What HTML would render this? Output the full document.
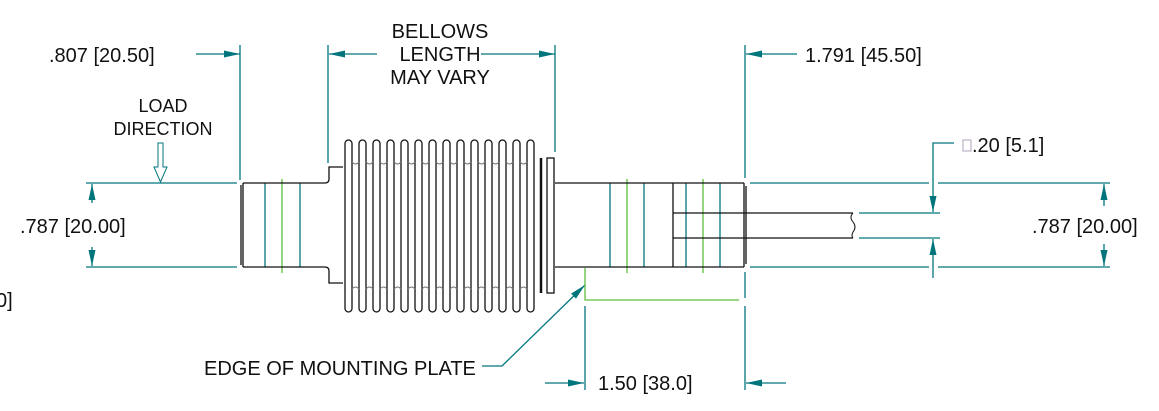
<!DOCTYPE html>
<html><head><meta charset="utf-8"><style>
html,body{margin:0;padding:0;background:#fff;}
svg{display:block;}
text{font-family:"Liberation Sans",Arial,sans-serif;font-size:20px;fill:#111;}
</style></head><body>
<svg width="1159" height="411" viewBox="0 0 1159 411" xmlns="http://www.w3.org/2000/svg">
<defs>
<marker id="a" viewBox="0 0 16 8" refX="16" refY="4" markerWidth="16" markerHeight="8" markerUnits="userSpaceOnUse" orient="auto" preserveAspectRatio="none"><path d="M0,0.5 L16,4 L0,7.5 Z" fill="#00767c"/></marker>
<marker id="av" viewBox="0 0 16 8" refX="16" refY="4" markerWidth="16" markerHeight="8" markerUnits="userSpaceOnUse" orient="auto" preserveAspectRatio="none"><path d="M0,0.5 L16,4 L0,7.5 Z" fill="#00767c"/></marker>
</defs>
<g stroke="#00767c" stroke-width="1.3" fill="none">
<line x1="196" y1="54" x2="240" y2="54" marker-end="url(#a)"/>
<line x1="240" y1="45" x2="240" y2="180"/>
<line x1="377" y1="54" x2="329" y2="54" marker-end="url(#a)"/>
<line x1="328" y1="45" x2="328" y2="163"/>
<line x1="481" y1="54" x2="555" y2="54" marker-end="url(#a)"/>
<line x1="555" y1="45" x2="555" y2="152"/>
<line x1="797" y1="54" x2="746" y2="54" marker-end="url(#a)"/>
<line x1="745" y1="45" x2="745" y2="178"/>
<line x1="745" y1="272" x2="745" y2="298"/>
<line x1="745" y1="306" x2="745" y2="390"/>
<line x1="86" y1="183" x2="237" y2="183"/>
<line x1="86" y1="267" x2="237" y2="267"/>
<line x1="92" y1="203" x2="92" y2="184" marker-end="url(#av)"/>
<line x1="92" y1="247" x2="92" y2="266" marker-end="url(#av)"/>
<line x1="750" y1="183" x2="929" y2="183"/>
<line x1="938" y1="183" x2="1110" y2="183"/>
<line x1="750" y1="267" x2="929" y2="267"/>
<line x1="938" y1="267" x2="1110" y2="267"/>
<line x1="859" y1="213" x2="940" y2="213"/>
<line x1="859" y1="238" x2="940" y2="238"/>
<polyline points="954,143 933,143 933,212" marker-end="url(#av)"/>
<line x1="933" y1="278" x2="933" y2="239" marker-end="url(#av)"/>
<line x1="1104" y1="206" x2="1104" y2="184" marker-end="url(#av)"/>
<line x1="1104" y1="244" x2="1104" y2="266" marker-end="url(#av)"/>
<line x1="585" y1="306" x2="585" y2="390"/>
<line x1="545" y1="383" x2="584" y2="383" marker-end="url(#a)"/>
<line x1="786" y1="383" x2="746" y2="383" marker-end="url(#a)"/>
<polyline points="482,366 502,366 585,285" marker-end="url(#a)"/>
<line x1="265" y1="183" x2="265" y2="267"/>
<line x1="300" y1="183" x2="300" y2="267"/>
<line x1="610" y1="183" x2="610" y2="267"/>
<line x1="644" y1="183" x2="644" y2="267"/>
<line x1="686" y1="183" x2="686" y2="267"/>
<line x1="720" y1="183" x2="720" y2="267"/>
</g>
<g stroke="#5cbf3a" stroke-width="1.3" fill="none">
<line x1="282" y1="179" x2="282" y2="273"/>
<line x1="627" y1="179" x2="627" y2="273"/>
<line x1="703" y1="179" x2="703" y2="273"/>
<polyline points="585,268 585,300 739,300"/>
</g>
<path d="M158,143 L163,143 L163,167 L167,167 L160.5,182 L154,167 L158,167 Z" fill="#fff" stroke="#00767c" stroke-width="1"/>
<g stroke="#111" stroke-width="1.3" fill="none">
<path d="M243,183 L325,183 Q329,183 329,179 L329,167 L343,167"/>
<path d="M243,267 L325,267 Q329,267 329,271 L329,283 L343,283"/>
<line x1="241" y1="185" x2="241" y2="265"/>
<line x1="243" y1="183" x2="243" y2="267"/>
<rect x="345" y="140" width="7" height="172" rx="3.5"/>
<rect x="359" y="140" width="7" height="172" rx="3.5"/>
<rect x="373" y="140" width="7" height="172" rx="3.5"/>
<rect x="387" y="140" width="7" height="172" rx="3.5"/>
<rect x="401" y="140" width="7" height="172" rx="3.5"/>
<rect x="415" y="140" width="7" height="172" rx="3.5"/>
<rect x="429" y="140" width="7" height="172" rx="3.5"/>
<rect x="443" y="140" width="7" height="172" rx="3.5"/>
<rect x="457" y="140" width="7" height="172" rx="3.5"/>
<rect x="471" y="140" width="7" height="172" rx="3.5"/>
<rect x="485" y="140" width="7" height="172" rx="3.5"/>
<rect x="499" y="140" width="7" height="172" rx="3.5"/>
<rect x="513" y="140" width="7" height="172" rx="3.5"/>
<rect x="527" y="140" width="7" height="172" rx="3.5"/>
<line x1="541" y1="158" x2="541" y2="293" stroke-width="2.5"/>
<rect x="547" y="158" width="7" height="135"/>
<path d="M555,183 L744,183 M555,267 L744,267"/>
<line x1="744" y1="183" x2="744" y2="267"/>
<line x1="746" y1="186" x2="746" y2="264"/>
<line x1="673" y1="183" x2="673" y2="267"/>
<path d="M673,213 L853,213 M673,238 L853,238"/>
<path d="M853,213 Q849,217 853,222 Q857,227 853,232 Q851,236 853,238" stroke-width="1"/>
</g>
<g stroke="#777" stroke-width="1" fill="none">
<path d="M352,162 q3.5,4 7,0 M366,162 q3.5,4 7,0 M380,162 q3.5,4 7,0 M394,162 q3.5,4 7,0 M408,162 q3.5,4 7,0 M422,162 q3.5,4 7,0 M436,162 q3.5,4 7,0 M450,162 q3.5,4 7,0 M464,162 q3.5,4 7,0 M478,162 q3.5,4 7,0 M492,162 q3.5,4 7,0 M506,162 q3.5,4 7,0 M520,162 q3.5,4 7,0"/>
<path d="M352,289 q3.5,-4 7,0 M366,289 q3.5,-4 7,0 M380,289 q3.5,-4 7,0 M394,289 q3.5,-4 7,0 M408,289 q3.5,-4 7,0 M422,289 q3.5,-4 7,0 M436,289 q3.5,-4 7,0 M450,289 q3.5,-4 7,0 M464,289 q3.5,-4 7,0 M478,289 q3.5,-4 7,0 M492,289 q3.5,-4 7,0 M506,289 q3.5,-4 7,0 M520,289 q3.5,-4 7,0"/>
</g>
<rect x="963" y="140" width="8" height="11" fill="none" stroke="#b0a0b8" stroke-width="1"/>
<text x="49" y="62">.807 [20.50]</text>
<text x="440" y="38" text-anchor="middle">BELLOWS</text>
<text x="440" y="61" text-anchor="middle">LENGTH</text>
<text x="440" y="84" text-anchor="middle">MAY VARY</text>
<text x="805" y="62">1.791 [45.50]</text>
<text x="163" y="112" text-anchor="middle" style="font-size:18px">LOAD</text>
<text x="163" y="135" text-anchor="middle" style="font-size:18px">DIRECTION</text>
<text x="20" y="233">.787 [20.00]</text>
<text x="-4" y="307">0]</text>
<text x="972" y="152">.20 [5.1]</text>
<text x="1032" y="233">.787 [20.00]</text>
<text x="204" y="375">EDGE OF MOUNTING PLATE</text>
<text x="598" y="390">1.50 [38.0]</text>
</svg>
</body></html>
